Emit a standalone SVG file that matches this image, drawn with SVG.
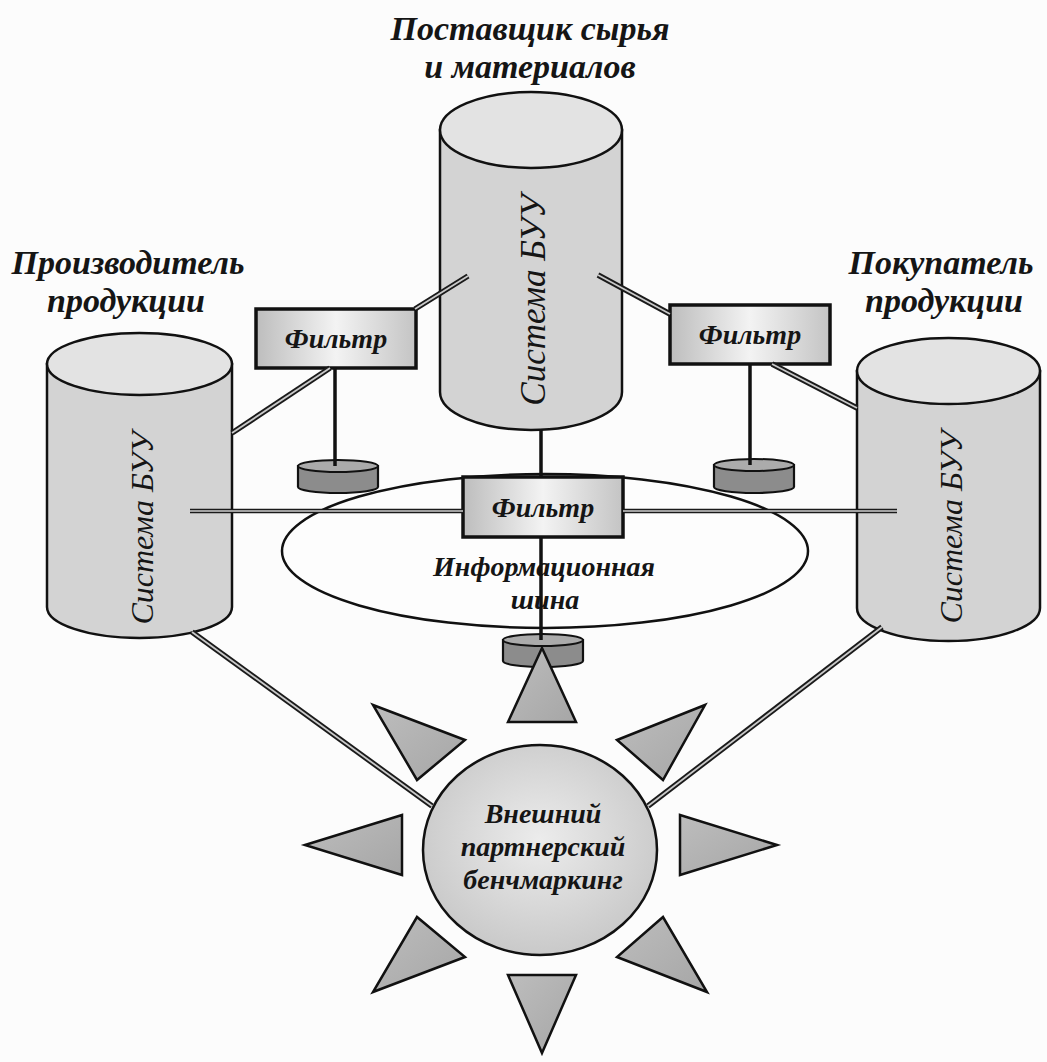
<svg xmlns="http://www.w3.org/2000/svg" width="1047" height="1062" viewBox="0 0 1047 1062">
<defs>
<linearGradient id="gFilter" x1="0" y1="0" x2="1" y2="0">
<stop offset="0" stop-color="#bdbdbd"/><stop offset="0.5" stop-color="#f3f3f3"/><stop offset="1" stop-color="#c4c4c4"/>
</linearGradient>
<radialGradient id="gSun" cx="0.5" cy="0.45" r="0.6">
<stop offset="0" stop-color="#ececec"/><stop offset="1" stop-color="#c6c6c6"/>
</radialGradient>
<linearGradient id="gTri" x1="0" y1="0" x2="1" y2="1">
<stop offset="0" stop-color="#bdbdbd"/><stop offset="1" stop-color="#a6a6a6"/>
</linearGradient>
</defs>
<style>
.bg{fill:#fcfcfc}
.cyl{fill:#d3d3d3;stroke:#111;stroke-width:2.5}
.cyltop{fill:#e3e3e3;stroke:#111;stroke-width:2.5}
.disc{fill:#8c8c8c;stroke:#111;stroke-width:2.2}
.disctop{fill:#ababab;stroke:#111;stroke-width:2}
.filter{fill:url(#gFilter);stroke:#111;stroke-width:3.5}
.bus{fill:#fdfdfd;stroke:#111;stroke-width:2.5}
.sun{fill:url(#gSun);stroke:#111;stroke-width:2.5}
.tri{fill:url(#gTri);stroke:#111;stroke-width:2.5;stroke-linejoin:miter}
.dbl-o{stroke:#1a1a1a;stroke-width:5.5;fill:none}
.dbl-i{stroke:#c9c9c9;stroke-width:1.8;fill:none}
.hdbl-o{stroke:#1a1a1a;stroke-width:4.5;fill:none}
.hdbl-i{stroke:#cfcfcf;stroke-width:1.4;fill:none}
.single{stroke:#111;stroke-width:3.5;fill:none}
.t{font-family:"Liberation Serif","Times New Roman",serif;font-style:italic;font-weight:bold;fill:#151515;text-anchor:middle}
.h{font-size:34px}
.f{font-size:28px}
.s{font-size:28px}
.c{font-family:"Liberation Serif","Times New Roman",serif;font-style:italic;fill:#151515;text-anchor:middle}
</style>
<rect class="bg" x="0" y="0" width="1047" height="1062"/>

<g id="info-bus">
<ellipse class="bus" cx="545" cy="551" rx="263" ry="77"/>
<text class="t s" x="544" y="576">Информационная</text>
<text class="t s" x="545" y="609">шина</text>
</g>

<g id="supplier">
<path class="cyl" d="M440,130 L440,392 A91,38 0 0 0 622,392 L622,130 Z"/>
<ellipse class="cyltop" cx="531" cy="130" rx="91" ry="38"/>
<text class="c" font-size="35" transform="translate(545,300) rotate(-90)">Система БУУ</text>
<text class="t h" x="530" y="40">Поставщик сырья</text>
<text class="t h" x="530" y="78">и материалов</text>
</g>

<g id="producer">
<path class="cyl" d="M47,364 L47,607 A92.5,31 0 0 0 232,607 L232,364 Z"/>
<ellipse class="cyltop" cx="139.5" cy="364" rx="92.5" ry="31"/>
<text class="c" font-size="32" transform="translate(153,528) rotate(-90)">Система БУУ</text>
<text class="t h" x="128" y="274">Производитель</text>
<text class="t h" x="126" y="312">продукции</text>
</g>

<g id="buyer">
<path class="cyl" d="M857,371 L857,608 A91.5,33 0 0 0 1040,608 L1040,371 Z"/>
<ellipse class="cyltop" cx="948.5" cy="371" rx="91.5" ry="33"/>
<text class="c" font-size="32" transform="translate(962,527) rotate(-90)">Система БУУ</text>
<text class="t h" x="941" y="274">Покупатель</text>
<text class="t h" x="944" y="312">продукции</text>
</g>

<g id="disc-left">
<path class="disc" d="M298,466 L298,487 A40,6 0 0 0 378,487 L378,466 Z"/>
<ellipse class="disctop" cx="338" cy="466" rx="40" ry="6"/>
</g>
<g id="disc-right">
<path class="disc" d="M714,465 L714,487 A40,6 0 0 0 794,487 L794,465 Z"/>
<ellipse class="disctop" cx="754" cy="465" rx="40" ry="6"/>
</g>
<g id="disc-bottom">
<path class="disc" d="M503,640 L503,661 A40,6 0 0 0 583,661 L583,640 Z"/>
<ellipse class="disctop" cx="543" cy="640" rx="40" ry="6"/>
</g>

<g id="filter-left">
<rect class="filter" x="256" y="309" width="160" height="59"/>
<text class="t f" x="336" y="348">Фильтр</text>
</g>
<g id="filter-right">
<rect class="filter" x="670" y="305" width="160" height="59"/>
<text class="t f" x="750" y="344">Фильтр</text>
</g>
<g id="filter-center">
<rect class="filter" x="463" y="477" width="160" height="60"/>
<text class="t f" x="543" y="517">Фильтр</text>
</g>

<g id="benchmarking">
<polygon class="tri" points="542,648 576,722 508,722"/>
<polygon class="tri" points="373,705 465,740 417,780"/>
<polygon class="tri" points="705,705 617,740 663,780"/>
<polygon class="tri" points="305,845 402,815 402,875"/>
<polygon class="tri" points="777,845 680,815 680,875"/>
<polygon class="tri" points="373,992 465,957 417,917"/>
<polygon class="tri" points="707,992 617,957 663,917"/>
<polygon class="tri" points="542,1053 576,975 508,975"/>
<ellipse class="sun" cx="540" cy="850" rx="117" ry="105"/>
<text class="t s" x="543" y="823">Внешний</text>
<text class="t s" x="543" y="856">партнерский</text>
<text class="t s" x="543" y="889">бенчмаркинг</text>
</g>

<g id="connectors">
<g class="dbl-o">
<line x1="415" y1="309" x2="468" y2="276"/>
<line x1="330" y1="368" x2="232" y2="433"/>
<line x1="598" y1="275" x2="670" y2="314"/>
<line x1="772" y1="364" x2="857" y2="408"/>
<line x1="192" y1="632" x2="432" y2="806"/>
<line x1="882" y1="627" x2="648" y2="806"/>
</g>
<g class="dbl-i">
<line x1="415" y1="309" x2="468" y2="276"/>
<line x1="330" y1="368" x2="232" y2="433"/>
<line x1="598" y1="275" x2="670" y2="314"/>
<line x1="772" y1="364" x2="857" y2="408"/>
<line x1="192" y1="632" x2="432" y2="806"/>
<line x1="882" y1="627" x2="648" y2="806"/>
</g>
<g class="hdbl-o">
<line x1="190" y1="511" x2="463" y2="511"/>
<line x1="623" y1="511" x2="897" y2="511"/>
</g>
<g class="hdbl-i">
<line x1="190" y1="511" x2="463" y2="511"/>
<line x1="623" y1="511" x2="897" y2="511"/>
</g>
<g class="single">
<line x1="335" y1="368" x2="335" y2="466"/>
<line x1="750" y1="364" x2="750" y2="465"/>
<line x1="541" y1="430" x2="541" y2="477"/>
<line x1="541" y1="537" x2="541" y2="640"/>
</g>
</g>
</svg>
